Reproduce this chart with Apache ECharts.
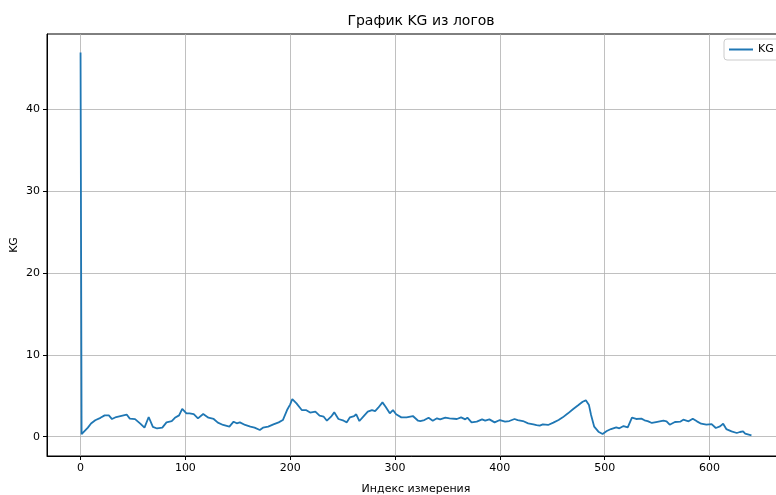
<!DOCTYPE html>
<html>
<head>
<meta charset="utf-8">
<script src="https://cdn.jsdelivr.net/npm/echarts@6/dist/echarts.min.js"></script>
<style>html,body{margin:0;padding:0;background:#fff}#c{width:776px;height:495px}</style>
</head>
<body>
<div id="c"></div>
<script>
const titleText = 'График KG из логов';
const xName = 'Индекс измерения';
const yName = 'KG';
const seriesName = 'KG';
const xTicks = [0, 100, 200, 300, 400, 500, 600];
const yTicks = [0, 10, 20, 30, 40];
const idx = [0,1,4,7,10,14,19,23,27,30,34,39,44,47,52,57,61,65,69,73,78,82,87,90,94,97,101,104,108,112,117,122,127,131,136,142,146,149,152,157,162,166,171,174,179,184,189,193,197,200,202,206,211,215,219,224,228,232,235,239,242,246,251,254,257,261,263,266,271,274,278,281,284,288,291,295,298,301,306,311,317,322,324,328,332,336,340,343,348,352,359,363,367,369,373,378,383,386,390,395,400,405,409,414,417,422,427,432,435,438,441,446,451,456,460,465,470,475,479,482,485,487,490,494,498,502,506,511,514,518,522,526,530,535,538,541,545,549,556,559,562,567,572,575,580,584,588,592,597,602,606,610,613,616,621,626,629,632,634,640];
const kg = [46.9,0.3,0.7,1.1,1.6,2.0,2.3,2.6,2.6,2.15,2.4,2.55,2.7,2.2,2.15,1.6,1.1,2.4,1.2,1.0,1.1,1.75,1.9,2.3,2.6,3.4,2.85,2.85,2.75,2.24,2.77,2.32,2.16,1.71,1.43,1.22,1.83,1.63,1.75,1.43,1.22,1.1,0.82,1.1,1.22,1.5,1.75,2.03,3.25,3.95,4.6,4.07,3.25,3.25,2.95,3.05,2.56,2.44,1.95,2.44,2.97,2.16,1.95,1.75,2.36,2.52,2.73,1.91,2.64,3.05,3.25,3.13,3.54,4.19,3.66,2.85,3.25,2.73,2.36,2.36,2.52,1.95,1.91,2.03,2.32,1.95,2.24,2.11,2.32,2.24,2.16,2.36,2.11,2.32,1.75,1.83,2.11,1.95,2.11,1.75,2.03,1.83,1.91,2.16,2.03,1.91,1.63,1.5,1.4,1.34,1.5,1.43,1.71,2.03,2.36,2.85,3.38,3.86,4.27,4.44,3.86,2.64,1.22,0.61,0.33,0.69,0.93,1.14,1.02,1.3,1.14,2.32,2.16,2.2,2.0,1.9,1.67,1.79,1.95,1.87,1.46,1.79,1.83,2.07,1.87,2.19,1.87,1.58,1.46,1.54,1.06,1.26,1.58,0.93,0.65,0.45,0.57,0.65,0.37,0.15];

const data = idx.map((x, i) => [x, kg[i]]);
const font = 'DejaVu Sans';
const chart = echarts.init(document.getElementById('c'), null, {renderer: 'canvas'});
chart.setOption({
  animation: false,
  backgroundColor: '#fff',
  title: {
    text: titleText, left: 416, top: 9, textAlign: 'center',
    textStyle: {fontFamily: font, fontSize: 14, fontWeight: 'normal', color: '#000'}
  },
  legend: {
    left: 724, top: 39, padding: [5, 6, 5, 5],
    borderColor: '#cccccc', borderWidth: 1, borderRadius: 3, backgroundColor: '#fff',
    icon: 'rect', itemWidth: 24, itemHeight: 2,
    textStyle: {fontFamily: font, fontSize: 11, color: '#000'},
    data: [seriesName]
  },
  grid: {left: 47, top: 34, width: 738, height: 422, containLabel: false, outerBoundsMode: 'none',
         show: true, borderColor: '#000', borderWidth: 1, backgroundColor: 'transparent'},
  xAxis: {
    type: 'value', min: -32, max: 672,
    name: xName, nameLocation: 'middle', nameGap: 28, nameMoveOverlap: false,
    nameTextStyle: {fontFamily: font, fontSize: 11, color: '#000'},
    axisLine: {show: true, onZero: false, lineStyle: {color: '#000', width: 1}},
    axisTick: {show: true, customValues: xTicks, length: 4, lineStyle: {color: '#000', width: 1}},
    axisLabel: {customValues: xTicks, margin: 7, fontFamily: font, fontSize: 11, color: '#000'},
    splitLine: {show: true, lineStyle: {color: '#b0b0b0', width: 0.8}}
  },
  yAxis: {
    type: 'value', min: -2.36, max: 49.17,
    name: yName, nameLocation: 'middle', nameGap: 33, nameRotate: 90, nameMoveOverlap: false,
    nameTextStyle: {fontFamily: font, fontSize: 11, color: '#000', verticalAlign: 'middle'},
    axisLine: {show: true, onZero: false, lineStyle: {color: '#000', width: 1}},
    axisTick: {show: true, customValues: yTicks, length: 4, lineStyle: {color: '#000', width: 1}},
    axisLabel: {customValues: yTicks, margin: 7, fontFamily: font, fontSize: 11, color: '#000'},
    splitLine: {show: true, lineStyle: {color: '#b0b0b0', width: 0.8}}
  },
  series: [{
    name: seriesName, type: 'line', data: data, showSymbol: false, symbol: 'none',
    lineStyle: {color: '#1f77b4', width: 1.8}, itemStyle: {color: '#1f77b4'}
  }]
});
</script>
</body>
</html>
